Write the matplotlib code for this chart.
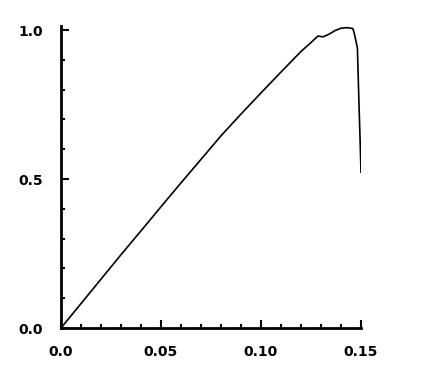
import matplotlib
matplotlib.use("Agg")
import matplotlib.pyplot as plt
from matplotlib.ticker import MultipleLocator

# strain / normalised stress
strain = [0.0, 0.01, 0.02, 0.03, 0.04, 0.05, 0.06, 0.07, 0.08, 0.09,
          0.10, 0.11, 0.12, 0.125, 0.1285, 0.131, 0.134, 0.137, 0.140,
          0.143, 0.1459, 0.1466, 0.1482, 0.1490, 0.1496, 0.1500]
stress = [0.0, 0.082, 0.164, 0.246, 0.326, 0.407, 0.487, 0.566, 0.645, 0.718,
          0.789, 0.859, 0.928, 0.958, 0.980, 0.977, 0.986, 0.998, 1.006,
          1.008, 1.005, 0.990, 0.940, 0.750, 0.620, 0.523]

x_ticks = [0.0, 0.05, 0.10, 0.15]
x_labels = ["0.0", "0.05", "0.10", "0.15"]
y_ticks = [0.0, 0.5, 1.0]
y_labels = ["0.0", "0.5", "1.0"]

fig = plt.figure(figsize=(4.31, 3.75), dpi=100)
ax = fig.add_axes([61 / 431, 47 / 375, 300 / 431, 302 / 375])

ax.plot(strain, stress, color="black", lw=1.2)

ax.set_xlim(0, 0.15)
ax.set_ylim(0, 1.0135)
ax.set_xticks(x_ticks)
ax.set_xticklabels(x_labels)
ax.set_yticks(y_ticks)
ax.set_yticklabels(y_labels)
ax.xaxis.set_minor_locator(MultipleLocator(0.01))
ax.yaxis.set_minor_locator(MultipleLocator(0.1))

for side in ("top", "right"):
    ax.spines[side].set_visible(False)
for side in ("left", "bottom"):
    ax.spines[side].set_linewidth(2)

ax.tick_params(which="major", direction="in", length=6, width=1.5,
               labelsize=10, color="black")
ax.tick_params(which="minor", direction="in", length=3, width=1.5)
ax.tick_params(axis="x", which="major", pad=12)
ax.tick_params(axis="y", which="major", pad=13)
for lbl in ax.get_xticklabels() + ax.get_yticklabels():
    lbl.set_fontweight("bold")

fig.savefig("out.png", dpi=100)
